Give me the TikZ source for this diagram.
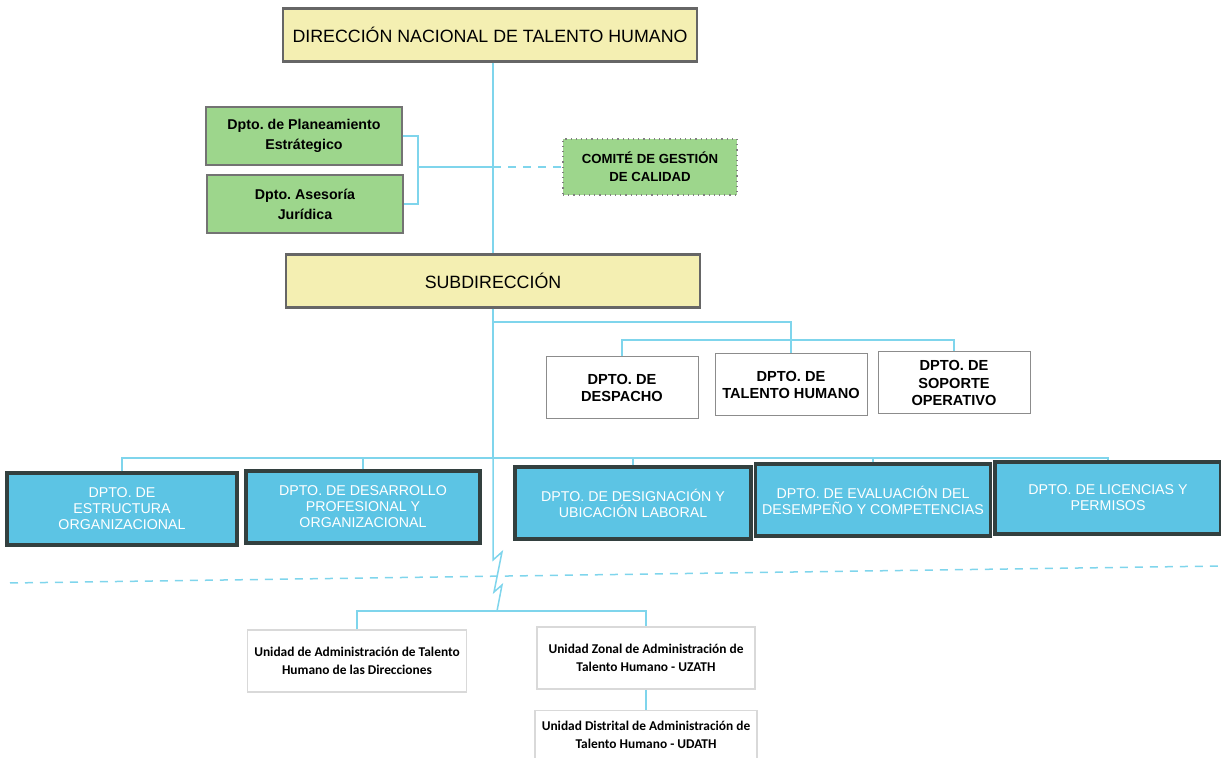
\documentclass[tikz,border=0pt]{standalone}
\usepackage{fontspec}
\setmainfont{Liberation Sans}
\newfontfamily\calibri{Carlito}
\usetikzlibrary{positioning}
\frenchspacing

\definecolor{headyellow}{HTML}{F4EFB2}
\definecolor{deptgreen}{HTML}{9DD68C}
\definecolor{deptcyan}{HTML}{5CC4E4}
\definecolor{linecyan}{HTML}{7FD5EC}
\definecolor{cyanedge}{HTML}{33403F}

\begin{document}
\begin{tikzpicture}[
    x=0.5pt, y=-0.5pt,
    head/.style={draw=black!60, line width=1.1pt, fill=headyellow, minimum width=207pt, minimum height=26.5pt, align=center, font=\fontsize{8.9}{10}\selectfont},
    staff/.style={draw=black!55, line width=0.6pt, fill=deptgreen, minimum width=98pt, minimum height=29pt, align=center, font=\fontsize{7.1}{10}\selectfont\bfseries},
    whitebox/.style={draw=black!45, line width=0.5pt, fill=white, minimum width=76pt, minimum height=31pt, align=center, font=\fontsize{7.3}{8.6}\selectfont\bfseries},
    cyanbox/.style={draw=cyanedge, line width=1.6pt, fill=deptcyan, text=white, minimum height=36pt, align=center, font=\fontsize{7.1}{8}\selectfont},
    unitbox/.style={draw=black!15, line width=0.8pt, fill=white, minimum height=31pt, align=center, font=\calibri\fontsize{6.7}{9}\selectfont\bfseries},
    link/.style={draw=linecyan, line width=0.75pt},
    sep/.style={draw=linecyan, line width=0.75pt, dash pattern=on 4pt off 3.5pt}
]
\useasboundingbox (0,0) rectangle (1221,758);

% top level
\node[head] (dir) at (490,35) {DIRECCIÓN NACIONAL DE TALENTO HUMANO};
\node[head] (sub) at (493,281) {SUBDIRECCIÓN};

% staff units
\node[staff] (plan) at (304,136) {Dpto. de Planeamiento\\Estrátegico};
\node[staff] (jur) at (305,204) {Dpto. Asesoría\\Jurídica};
\node[staff, draw=black!50, dotted, minimum width=87pt, minimum height=28pt, font=\fontsize{6.6}{9}\selectfont\bfseries] (com) at (650,167) {COMITÉ DE GESTIÓN\\DE CALIDAD};

% support departments
\node[whitebox] (desp) at (622,388) {DPTO. DE\\DESPACHO};
\node[whitebox] (tal) at (791,385) {DPTO. DE\\TALENTO HUMANO};
\node[whitebox] (sop) at (954,383) {DPTO. DE\\SOPORTE\\OPERATIVO};

% operative departments
\node[cyanbox, minimum width=115pt] (est) at (122,509) {DPTO. DE\\ESTRUCTURA\\ORGANIZACIONAL};
\node[cyanbox, minimum width=117pt] (des) at (363,507) {DPTO. DE DESARROLLO\\PROFESIONAL Y\\ORGANIZACIONAL};
\node[cyanbox, minimum width=118pt] (dsg) at (633,503) {DPTO. DE DESIGNACIÓN Y\\UBICACIÓN LABORAL};
\node[cyanbox, minimum width=116pt] (eva) at (873,500) {DPTO. DE EVALUACIÓN DEL\\DESEMPEÑO Y COMPETENCIAS};
\node[cyanbox, minimum width=113pt] (lic) at (1108,498) {DPTO. DE LICENCIAS Y\\PERMISOS};

% decentralised units
\node[unitbox, minimum width=107pt] (udir) at (357,661) {Unidad de Administración de Talento\\Humano de las Direcciones};
\node[unitbox, minimum width=109pt] (uzath) at (646,658) {Unidad Zonal de Administración de\\Talento Humano - UZATH};
\node[unitbox, minimum width=110pt, minimum height=24pt, below=10pt of uzath] (udath) {Unidad Distrital de Administración de\\Talento Humano - UDATH};

% spine
\draw[link] (sub.north |- dir.south) -- (sub.north);
\coordinate (brk) at (418,167);
\draw[link] (plan.east) -| (brk) |- (jur.east);
\draw[link] (brk) -- (sub.north |- brk);
\draw[sep] (sub.north |- brk) -- (com.west);

% support row
\coordinate (j1) at (493,322);
\coordinate (j2) at (791,340);
\draw[link] (sub.south) -- (j1) -| (j2);
\draw[link] (desp.north) |- (j2) -| (sop.north);
\draw[link] (j2) -- (tal.north);

% operative row
\coordinate (j3) at (493,458);
\draw[link] (j1) -- (j3);
\draw[link] (est.north) |- (j3) -| (lic.north);
\foreach \d in {des,dsg,eva}
  \draw[link] (\d.north) -- (\d.north |- j3);

% break to the units
\coordinate (j4) at (497,611);
\draw[link] (j3) -- (493,560) -- (502,552) -- (494,592) -- (502,585) -- (j4);
\draw[sep] (10,583) -- (1221,566);
\draw[link] (udir.north) |- (j4) -| (uzath.north);
\draw[link] (uzath.south) -- (udath.north);

\end{tikzpicture}
\end{document}
